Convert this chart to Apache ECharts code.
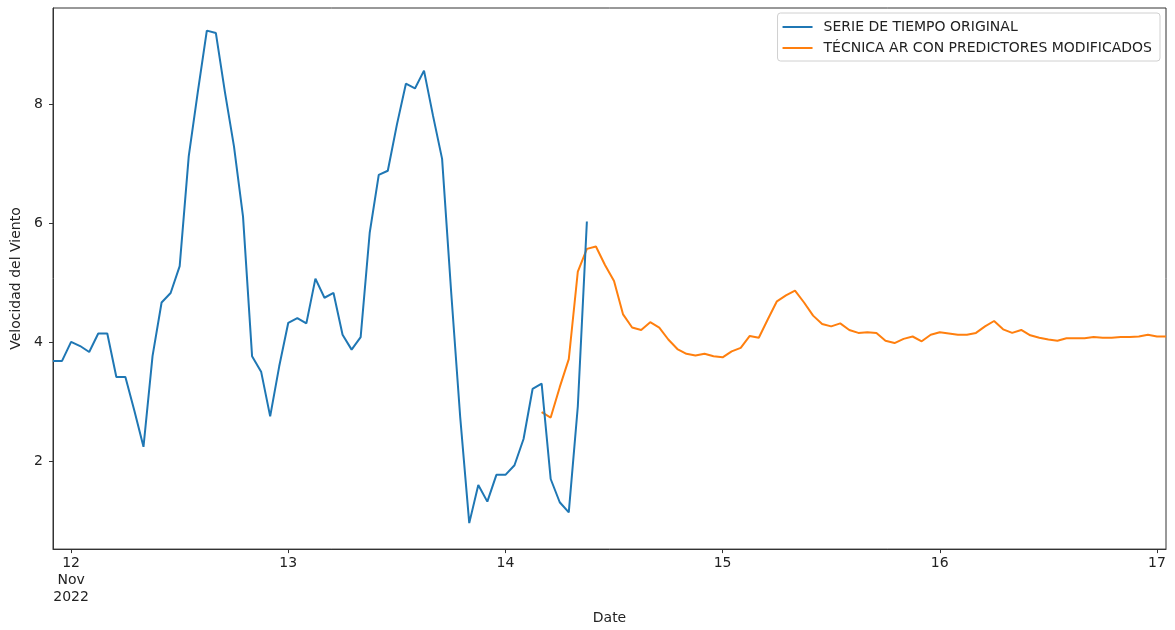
<!DOCTYPE html>
<html>
<head>
<meta charset="utf-8">
<script src="https://cdn.jsdelivr.net/npm/echarts@6/dist/echarts.min.js"></script>
<style>
  html, body { margin: 0; padding: 0; background: #fff; }
  #chart { width: 1175px; height: 630px; }
</style>
</head>
<body>
<div id="chart"></div>
<script>
// Hourly wind speed; x is measured in hours since 2022-11-11 22:00
const axisStartHour = 0;
const axisEndHour = 123;          // 2022-11-17 01:00

// Observed series (hours 0..59)
const originalValues = [
  3.69, 3.69, 4.01, 3.94, 3.84, 4.15, 4.15, 3.42, 3.42, 2.85,
  2.25, 3.77, 4.67, 4.83, 5.28, 7.12, 8.20, 9.23, 9.19, 8.20,
  7.29, 6.11, 3.77, 3.51, 2.76, 3.60, 4.33, 4.41, 4.32, 5.07,
  4.75, 4.83, 4.13, 3.88, 4.09, 5.84, 6.81, 6.88, 7.65, 8.34,
  8.26, 8.56, 7.80, 7.08, 4.85, 2.75, 0.97, 1.61, 1.33, 1.78,
  1.78, 1.94, 2.38, 3.22, 3.31, 1.71, 1.32, 1.15, 2.93, 6.03
];

// AR forecast with modified predictors, starting at hour 54
const forecastOffset = 54;
const forecastValues = [
  2.83, 2.74, 3.25, 3.72, 5.19, 5.57, 5.61, 5.30, 5.03, 4.47,
  4.25, 4.21, 4.34, 4.25, 4.05, 3.89, 3.81, 3.78, 3.81, 3.77,
  3.75, 3.85, 3.91, 4.11, 4.08, 4.39, 4.69, 4.79, 4.87, 4.67,
  4.45, 4.31, 4.27, 4.32, 4.21, 4.16, 4.17, 4.16, 4.03, 3.99,
  4.06, 4.10, 4.02, 4.13, 4.17, 4.15, 4.13, 4.13, 4.16, 4.27,
  4.36, 4.22, 4.16, 4.21, 4.12, 4.08, 4.05, 4.03, 4.07, 4.07,
  4.07, 4.09, 4.08, 4.08, 4.09, 4.09, 4.10, 4.13, 4.10, 4.10
];

// Day ticks (midnight of each day, in hours since the first sample)
const dayTickHours = [2, 26, 50, 74, 98, 122];
const dayTickLabels = ['12\nNov\n2022', '13', '14', '15', '16', '17'];
const yTicks = [2, 4, 6, 8];

const seriesNames = ['SERIE DE TIEMPO ORIGINAL', 'TÉCNICA AR CON PREDICTORES MODIFICADOS'];

const originalData = originalValues.map((v, i) => [i, v]);
const forecastData = forecastValues.map((v, i) => [forecastOffset + i, v]);

const FONT = 'DejaVu Sans';
const FS = 14;
const TEXT = '#222';
const AXIS = '#333';

const chart = echarts.init(document.getElementById('chart'), null, { renderer: 'canvas' });
chart.setOption({
  animation: false,
  backgroundColor: '#fff',
  textStyle: { fontFamily: FONT },
  grid: {
    left: 53, right: 9, top: 8, bottom: 80,
    show: true, borderColor: AXIS, borderWidth: 1, backgroundColor: 'transparent'
  },
  legend: {
    orient: 'vertical',
    right: 15, top: 13,
    padding: [7, 8, 6, 5],
    itemGap: 7,
    itemWidth: 30, itemHeight: 2,
    icon: 'rect',
    backgroundColor: '#fff',
    borderColor: '#d0d0d0', borderWidth: 1, borderRadius: 3,
    textStyle: { fontFamily: FONT, fontSize: FS, color: TEXT, padding: [0, 0, 0, 6] },
    data: seriesNames
  },
  xAxis: {
    type: 'value',
    min: axisStartHour,
    max: axisEndHour,
    name: 'Date',
    nameLocation: 'middle',
    nameGap: 61,
    nameTextStyle: { fontFamily: FONT, fontSize: FS, color: TEXT },
    axisLine: { show: true, onZero: false, lineStyle: { color: AXIS, width: 1 } },
    axisTick: { show: true, customValues: dayTickHours, length: 4, lineStyle: { color: AXIS } },
    axisLabel: {
      customValues: dayTickHours,
      margin: 6,
      fontFamily: FONT, fontSize: FS, color: TEXT, lineHeight: 17,
      formatter: function (value) {
        const idx = dayTickHours.indexOf(value);
        return idx >= 0 ? dayTickLabels[idx] : '';
      }
    },
    splitLine: { show: false }
  },
  yAxis: {
    type: 'value',
    min: 0.534,
    max: 9.61,
    name: 'Velocidad del Viento',
    nameLocation: 'middle',
    nameGap: 29,
    nameTextStyle: { fontFamily: FONT, fontSize: FS, color: TEXT },
    axisLine: { show: true, onZero: false, lineStyle: { color: AXIS, width: 1 } },
    axisTick: { show: true, customValues: yTicks, length: 4, lineStyle: { color: AXIS } },
    axisLabel: { customValues: yTicks, margin: 10, fontFamily: FONT, fontSize: FS, color: TEXT },
    splitLine: { show: false }
  },
  series: [
    {
      name: seriesNames[0],
      type: 'line',
      data: originalData,
      showSymbol: false,
      symbol: 'none',
      z: 3,
      lineStyle: { color: '#1f77b4', width: 2 },
      itemStyle: { color: '#1f77b4' }
    },
    {
      name: seriesNames[1],
      type: 'line',
      data: forecastData,
      showSymbol: false,
      symbol: 'none',
      z: 2,
      lineStyle: { color: '#ff7f0e', width: 2 },
      itemStyle: { color: '#ff7f0e' }
    }
  ]
});
</script>
</body>
</html>
